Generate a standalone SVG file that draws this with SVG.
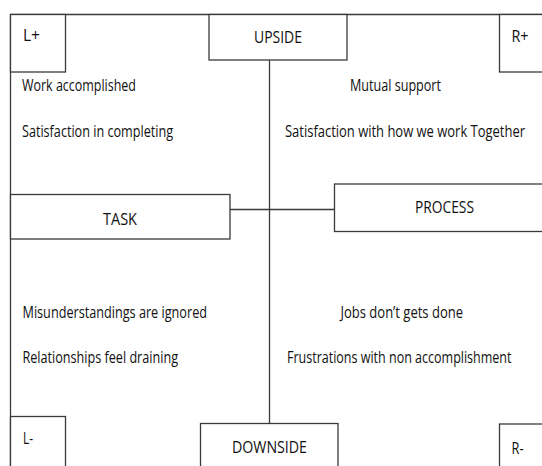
<svg xmlns="http://www.w3.org/2000/svg" width="542" height="466" viewBox="0 0 542 466">
<style>
.box{fill:#fff;stroke:#3a3a3a;stroke-width:1.3}
.ln{fill:none;stroke:#3a3a3a;stroke-width:1.3}
text{font-family:"Open Sans","Noto Sans","Liberation Sans",sans-serif;font-size:16px;fill:#111}
.c{text-anchor:middle}
</style>
<rect width="542" height="466" fill="#fff"/>
<g id="frame">
<path class="ln" d="M10.5,466 V14.5 H542"/>
</g>
<g id="connectors">
<path class="ln" d="M269.5,60 V423"/>
<path class="ln" d="M230,209.5 H334.5"/>
</g>
<g id="node-lplus">
<rect class="box" x="10.5" y="14.5" width="55" height="57.5"/>
<text transform="scale(0.75 1)" x="30.67" y="41" textLength="22.67" lengthAdjust="spacingAndGlyphs">L+</text>
</g>
<g id="node-upside">
<rect class="box" x="209" y="14.5" width="138" height="45.5"/>
<text transform="scale(0.75 1)" x="370.67" y="43.5" class="c" textLength="64" lengthAdjust="spacingAndGlyphs">UPSIDE</text>
</g>
<g id="node-rplus">
<rect class="box" x="499.5" y="14.5" width="50" height="57.5"/>
<text transform="scale(0.75 1)" x="682" y="42" textLength="22.67" lengthAdjust="spacingAndGlyphs">R+</text>
</g>
<g id="node-task">
<rect class="box" x="10.5" y="194.5" width="219.5" height="44.5"/>
<text transform="scale(0.75 1)" x="160" y="225" class="c" textLength="45.33" lengthAdjust="spacingAndGlyphs">TASK</text>
</g>
<g id="node-process">
<rect class="box" x="334.5" y="184" width="215" height="47.5"/>
<text transform="scale(0.75 1)" x="592.67" y="213" class="c" textLength="78.67" lengthAdjust="spacingAndGlyphs">PROCESS</text>
</g>
<g id="node-lminus">
<rect class="box" x="10.5" y="416.5" width="55" height="60"/>
<text transform="scale(0.75 1)" x="30.67" y="444" textLength="13.33" lengthAdjust="spacingAndGlyphs">L-</text>
</g>
<g id="node-downside">
<rect class="box" x="200.5" y="423.5" width="137.5" height="50"/>
<text transform="scale(0.75 1)" x="359.33" y="453" class="c" textLength="100" lengthAdjust="spacingAndGlyphs">DOWNSIDE</text>
</g>
<g id="node-rminus">
<rect class="box" x="499.5" y="424" width="50" height="50"/>
<text transform="scale(0.75 1)" x="682" y="454" textLength="16" lengthAdjust="spacingAndGlyphs">R-</text>
</g>
<g id="labels">
<text transform="scale(0.75 1)" x="29.33" y="91" textLength="152" lengthAdjust="spacingAndGlyphs">Work accomplished</text>
<text transform="scale(0.75 1)" x="29.33" y="137" textLength="201.33" lengthAdjust="spacingAndGlyphs">Satisfaction in completing</text>
<text transform="scale(0.75 1)" x="466.67" y="91" textLength="121.33" lengthAdjust="spacingAndGlyphs">Mutual support</text>
<text transform="scale(0.75 1)" x="380" y="137" textLength="320" lengthAdjust="spacingAndGlyphs">Satisfaction with how we work Together</text>
<text transform="scale(0.75 1)" x="30" y="318" textLength="246" lengthAdjust="spacingAndGlyphs">Misunderstandings are ignored</text>
<text transform="scale(0.75 1)" x="30" y="363" textLength="207.33" lengthAdjust="spacingAndGlyphs">Relationships feel draining</text>
<text transform="scale(0.75 1)" x="454" y="318" textLength="163.33" lengthAdjust="spacingAndGlyphs">Jobs don’t gets done</text>
<text transform="scale(0.75 1)" x="382.67" y="363" textLength="299.33" lengthAdjust="spacingAndGlyphs">Frustrations with non accomplishment</text>
</g>
</svg>
